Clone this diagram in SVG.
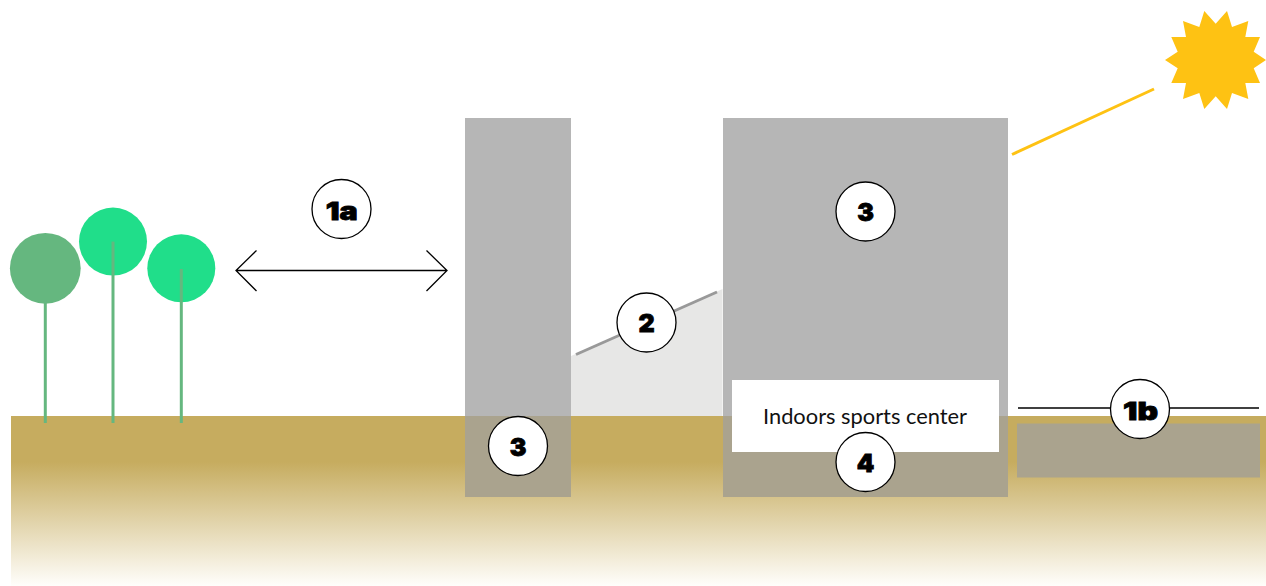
<svg xmlns="http://www.w3.org/2000/svg" width="1266" height="586" viewBox="0 0 1266 586">
  <defs>
    <linearGradient id="soil" x1="0" y1="416" x2="0" y2="586" gradientUnits="userSpaceOnUse">
      <stop offset="0" stop-color="#c6ac5f"/>
      <stop offset="0.27" stop-color="#c6ac5f"/>
      <stop offset="1" stop-color="#fffefb"/>
    </linearGradient>
  </defs>
  <style>
    .canopy-a { fill: #20de8a; }
    .canopy-b { fill: #65b77f; }
    .stem { stroke: #65b77f; stroke-width: 3; fill: none; }
    .above { fill: #b6b6b6; }
    .below { fill: #aaa38e; }
    .badge circle { fill: #fff; stroke: #000; stroke-width: 1.3; }
    .badge text { font-family: "Inter", "Liberation Sans", sans-serif; font-weight: 900; font-size: 25px; text-anchor: middle; fill: #000; stroke: #000; stroke-width: 0.8; }
    .conn { stroke: #000; stroke-width: 1.3; fill: none; }
  </style>
  <rect width="1266" height="586" fill="#fff"/>
  <g id="ground"><rect x="11" y="416" width="1255" height="170" fill="url(#soil)"/></g>
  <g id="sun">
    <polygon fill="#fec213" points="1266,60 1253.7,51.7 1260,37 1245.3,37 1248.3,21 1232,27 1227,11 1215.7,23.7 1204.3,11 1199.3,27 1183,21 1186,37 1171.3,37 1177.7,51.7 1165,60 1177.7,68.3 1171.3,83 1186,83 1183,99 1199.3,93 1204.3,109 1215.7,96.3 1227,109 1232,93 1248.3,99 1245.3,83 1260,83 1253.7,68.3"/>
    <line x1="1012" y1="154.500" x2="1154" y2="89" stroke="#fec213" stroke-width="3"/>
  </g>
  <g id="tree-1">
    <circle class="canopy-b" cx="45.300" cy="268.300" r="35.400"/>
    <line class="stem" x1="45.300" y1="300" x2="45.300" y2="423"/>
  </g>
  <g id="tree-2">
    <circle class="canopy-a" cx="113" cy="241.600" r="34"/>
    <line class="stem" x1="113" y1="241.600" x2="113" y2="423"/>
  </g>
  <g id="tree-3">
    <circle class="canopy-a" cx="181.300" cy="268.300" r="34"/>
    <line class="stem" x1="181.300" y1="269" x2="181.300" y2="423"/>
  </g>
  <g id="building-left">
    <rect class="above" x="465" y="118" width="106" height="298"/>
    <rect class="below" x="465" y="416" width="106" height="81"/>
  </g>
  <g id="ramp">
    <polygon fill="#e7e7e6" points="571,356 722.500,289 722.500,416 571,416"/>
    <line x1="576" y1="354.500" x2="717" y2="292" stroke="#999" stroke-width="3"/>
  </g>
  <g id="building-right">
    <rect class="above" x="723" y="118" width="285" height="298"/>
    <rect class="below" x="723" y="416" width="285" height="81"/>
  </g>
  <g id="sports-center">
    <rect x="732" y="380" width="267" height="72" fill="#fff"/>
    <text x="865" y="424" font-family="Lato, 'Liberation Sans', sans-serif" font-size="21" text-anchor="middle" fill="#111" textLength="204" lengthAdjust="spacingAndGlyphs">Indoors sports center</text>
  </g>
  <g id="slab"><rect x="1017" y="423.500" width="243" height="54" fill="#aaa38e"/></g>
  <g id="connectors">
    <path class="conn" d="M447 270.500H236M256.500 250.500L236 270.500L256.500 291M426.500 250.500L447 270.500L426.500 291"/>
    <line class="conn" x1="1018" y1="408" x2="1259" y2="408"/>
  </g>
  <g id="badge-1a" class="badge"><circle cx="341.500" cy="209" r="29.500"/><text x="341.700" y="219.700" textLength="32" lengthAdjust="spacingAndGlyphs">1a</text></g>
  <g id="badge-2" class="badge"><circle cx="646.500" cy="322.500" r="29.500"/><text x="646.500" y="332">2</text></g>
  <g id="badge-3a" class="badge"><circle cx="518" cy="446" r="29.500"/><text x="518" y="456">3</text></g>
  <g id="badge-3b" class="badge"><circle cx="865.500" cy="211.500" r="29.500"/><text x="865.500" y="221">3</text></g>
  <g id="badge-4" class="badge"><circle cx="865.500" cy="462" r="29.500"/><text x="865.500" y="472">4</text></g>
  <g id="badge-1b" class="badge"><circle cx="1140" cy="409" r="29.500"/><text x="1140.500" y="419.500" textLength="35" lengthAdjust="spacingAndGlyphs">1b</text></g>
</svg>
